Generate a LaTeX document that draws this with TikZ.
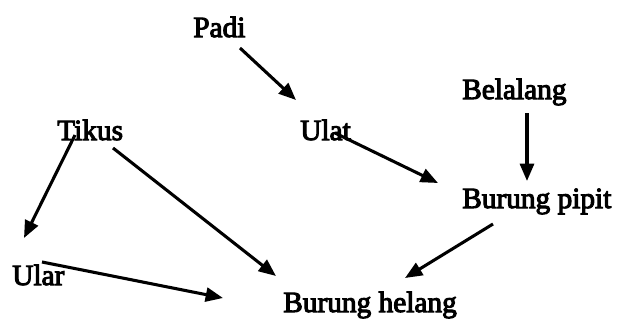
\documentclass[tikz,border=0pt]{standalone}
\usepackage{fontspec}
\setmainfont{Liberation Serif}
\newfontfamily\webfont{Liberation Serif}[FakeBold=3.5]
\usetikzlibrary{arrows.meta,calc}
\begin{document}
\begin{tikzpicture}[x=0.75pt,y=-0.75pt,
  animal/.style={anchor=base west,inner sep=0pt,font=\webfont\fontsize{22}{25}\selectfont},
  eats/.style={line width=2.3pt,-{Triangle[length=13pt,width=10.5pt]}}]
\useasboundingbox (0,0) rectangle (618,325);
% species
\node[animal] (padi)   at (193,37)  {Padi};
\node[animal] (belalang) at (462,99) {Belalang};
\node[animal] (tikus)  at (57,140)  {Tikus};
\node[animal] (ulat)   at (300,140) {Ulat};
\node[animal] (pipit)  at (462,208) {Burung pipit};
\node[animal] (ular)   at (12,285)  {Ular};
\node[animal] (helang) at (283,312) {Burung helang};
% feeding links
\draw[eats] ($(padi.base west)+(47,11)$) -- ($(ulat.base west)+(-4,-40)$);
\draw[eats] ($(ulat.base west)+(35,-7)$) -- ($(pipit.base west)+(-24,-25)$);
\draw[eats] ($(belalang.base west)+(65,14)$) -- ($(pipit.base west)+(65,-27)$);
\draw[eats] ($(tikus.base west)+(18,-5)$) -- ($(ular.base west)+(12,-47)$);
\draw[eats] ($(tikus.base west)+(56,8)$) -- ($(helang.base west)+(-7,-36)$);
\draw[eats] ($(ular.base west)+(30,-23)$) -- ($(helang.base west)+(-60,-14)$);
\draw[eats] ($(pipit.base west)+(31,16)$) -- ($(helang.base west)+(122,-34)$);
\end{tikzpicture}
\end{document}
